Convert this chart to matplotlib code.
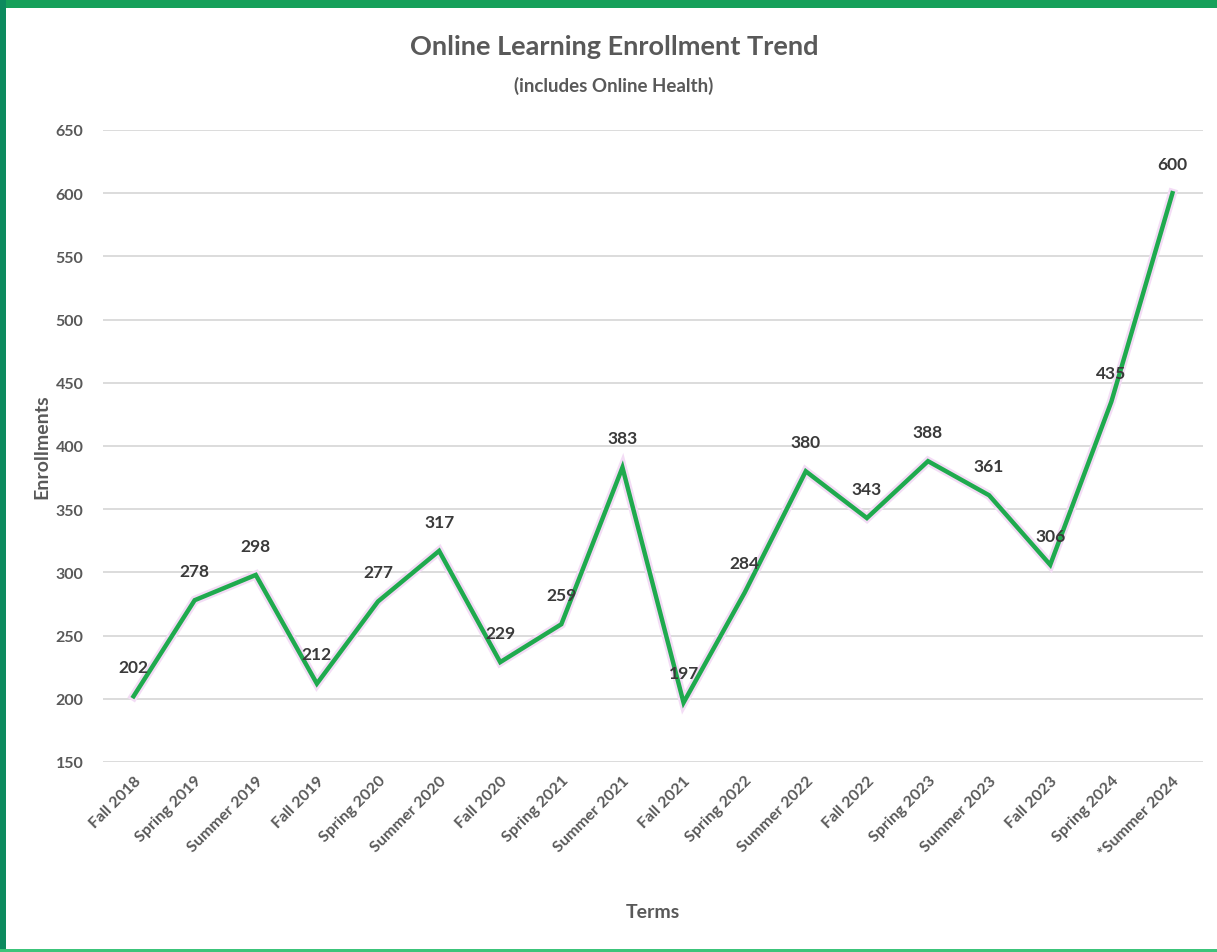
import matplotlib
matplotlib.use("Agg")
import matplotlib.pyplot as plt
import matplotlib.patheffects as pe
from matplotlib.patches import Rectangle

terms = ["Fall 2018", "Spring 2019", "Summer 2019", "Fall 2019", "Spring 2020",
         "Summer 2020", "Fall 2020", "Spring 2021", "Summer 2021", "Fall 2021",
         "Spring 2022", "Summer 2022", "Fall 2022", "Spring 2023", "Summer 2023",
         "Fall 2023", "Spring 2024", "*Summer 2024"]
enrollments = [202, 278, 298, 212, 277, 317, 229, 259, 383, 197,
               284, 380, 343, 388, 361, 306, 435, 600]
yticks = [150, 200, 250, 300, 350, 400, 450, 500, 550, 600, 650]

plt.rcParams['font.family'] = ['Lato', 'DejaVu Sans']

fig = plt.figure(figsize=(12.17, 9.53), dpi=100)
fig.patch.set_facecolor('white')
ax = fig.add_axes([103/1217, 1-763/953, 1100/1217, 632/953])

x = list(range(len(terms)))
ax.plot(x, enrollments, color='#1faa4e', linewidth=3.2, solid_joinstyle='miter',
        path_effects=[pe.Stroke(linewidth=6.5, foreground='#f3dcf5'), pe.Normal()], zorder=3)

for xi, v in zip(x, enrollments):
    ax.annotate(str(v), (xi, v), xytext=(0, 21), textcoords='offset points',
                ha='center', va='center', fontsize=12.5, fontweight='bold',
                color='#3a3a3a', zorder=4)

ax.set_xlim(-0.5, len(terms) - 0.5)
ax.set_ylim(150, 650)
ax.set_yticks(yticks)
ax.set_xticks(x)
ax.set_xticklabels(terms, rotation=45, ha='right', rotation_mode='anchor',
                   fontsize=11.5, fontweight='bold', color='#595959')
ax.tick_params(axis='y', labelsize=11.5, labelcolor='#595959', length=0, pad=14)
for lbl in ax.get_yticklabels():
    lbl.set_fontweight('bold')
ax.tick_params(axis='x', length=0, pad=8)
ax.grid(axis='y', color='#d9d9d9', linewidth=1.3)
ax.set_axisbelow(True)
for s in ax.spines.values():
    s.set_visible(False)

ax.set_ylabel('Enrollments', fontsize=14, fontweight='bold', color='#595959', labelpad=4)
ax.set_xlabel('Terms', fontsize=14, fontweight='bold', color='#595959', labelpad=32)

fig.text(614/1217, 1-47/953, 'Online Learning Enrollment Trend', ha='center', va='center',
         fontsize=19.5, fontweight='bold', color='#595959')
fig.text(614/1217, 1-86/953, '(includes Online Health)', ha='center', va='center',
         fontsize=13.5, fontweight='bold', color='#595959')

# frame border
fig.patches.append(Rectangle((0, 1-9/953), 1, 9/953, transform=fig.transFigure,
                             facecolor='#16a05a', edgecolor='none', zorder=10))
fig.patches.append(Rectangle((0, 0), 6/1217, 1, transform=fig.transFigure,
                             facecolor='#0c8a5e', edgecolor='none', zorder=10))
fig.patches.append(Rectangle((0, 0), 1, 3/953, transform=fig.transFigure,
                             facecolor='#3cc47a', edgecolor='none', zorder=10))

fig.savefig('out.png', dpi=100)
